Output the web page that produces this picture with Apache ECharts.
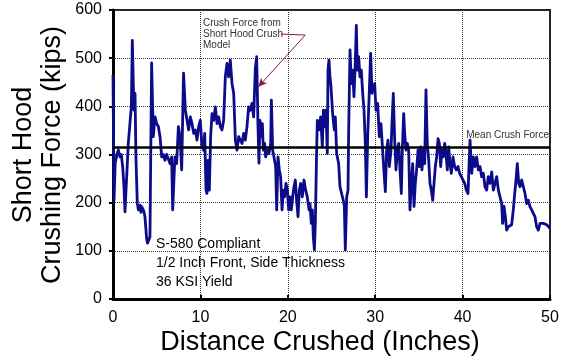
<!DOCTYPE html>
<html>
<head>
<meta charset="utf-8">
<script src="https://cdn.jsdelivr.net/npm/echarts@6/dist/echarts.min.js"></script>
<style>
  html, body { margin: 0; padding: 0; background: #ffffff; }
  #chart { width: 569px; height: 358px; }
</style>
</head>
<body>
<div id="chart"></div>
<script>
// Crush distance (inches) and short hood crushing force (kips)
const distance = [
  0.00, 0.12, 0.25, 0.45, 0.61, 0.80, 0.95, 1.11, 1.25, 1.37, 1.56, 1.75, 1.95, 2.10, 2.21, 2.32, 2.40, 2.52, 2.63, 2.78,
  2.90, 3.09, 3.20, 3.28, 3.47, 3.58, 3.66, 3.85, 3.95, 4.04, 4.23, 4.30, 4.42, 4.61, 4.81, 5.00, 5.19, 5.38, 5.57, 5.75,
  5.95, 6.15, 6.33, 6.52, 6.71, 6.83, 7.00, 7.09, 7.28, 7.48, 7.67, 7.86, 8.07,
  8.28, 8.47, 8.66, 8.85, 9.04, 9.23, 9.42, 9.61, 9.80, 9.99, 10.18, 10.37, 10.49, 10.64, 10.75, 10.87, 11.02, 11.17, 11.33, 11.52,
  11.71, 11.90, 12.09, 12.28, 12.47, 12.66, 12.85, 13.04, 13.23, 13.42, 13.62, 13.81, 14.00, 14.19, 14.38, 14.57, 14.76, 14.95,
  15.14, 15.33, 15.52, 15.71, 15.90, 16.09, 16.29, 16.44,
  16.59, 16.70, 16.82, 16.97, 17.09, 17.20, 17.35, 17.47, 17.66, 17.85, 18.04, 18.12, 18.27, 18.42, 18.61, 18.73, 18.88, 19.03,
  19.18, 19.34, 19.49, 19.64, 19.79, 19.95, 20.10, 20.25, 20.40, 20.56, 20.71, 20.86, 21.01, 21.17, 21.32, 21.47, 21.66, 21.85,
  22.04, 22.23, 22.43, 22.54, 22.69, 22.81, 22.92, 23.04, 23.15, 23.30, 23.38, 23.57, 23.76, 23.95, 24.07, 24.22, 24.37, 24.52,
  24.60, 24.71,
  24.83, 24.94, 25.13, 25.32, 25.44, 25.59, 25.82, 25.97, 26.20, 26.35, 26.47, 26.58, 26.74, 26.89, 26.96, 27.04, 27.12, 27.27,
  27.42, 27.57, 27.73, 27.84, 27.96, 28.11, 28.26, 28.41, 28.57, 28.72, 28.87, 28.99, 29.14, 29.33, 29.48, 29.63, 29.79, 29.94,
  30.09, 30.28, 30.47, 30.66, 30.85, 31.04, 31.16, 31.31, 31.46, 31.62, 31.81, 31.92, 32.07, 32.23, 32.38, 32.53, 32.69, 32.84,
  32.99,
  33.10, 33.26, 33.37, 33.52, 33.68, 33.83, 33.98, 34.13, 34.29, 34.44, 34.59, 34.74, 34.90, 35.05, 35.20, 35.35, 35.51, 35.66,
  35.81, 35.96, 36.12, 36.27, 36.42, 36.58, 36.73, 36.88, 37.03, 37.19, 37.34, 37.49, 37.64, 37.80, 37.95, 38.10, 38.25, 38.41,
  38.56, 38.71, 38.90, 39.09, 39.28, 39.47, 39.66, 39.85, 40.05, 40.24, 40.43, 40.62, 40.73, 40.85,
  41.04, 41.23, 41.42, 41.61, 41.80, 41.99, 42.18, 42.37, 42.56, 42.75, 42.94, 43.14, 43.33, 43.52, 43.71, 43.90, 44.09, 44.28,
  44.47, 44.58, 44.74, 44.89, 45.04, 45.23, 45.42, 45.61, 45.80, 45.96, 46.11, 46.26, 46.42, 46.57, 46.76, 46.95, 47.14, 47.33,
  47.52, 47.71, 47.90, 48.09, 48.28, 48.47, 48.66, 48.86, 49.05, 49.24, 49.43, 49.62, 49.81, 50.00
];
const force = [
  465, 205, 282, 300, 309, 295, 300, 274, 235, 181, 181, 323, 323, 400, 537, 450, 392, 427, 290, 199,
  185, 195, 180, 192, 185, 178, 170, 125, 116, 120, 129, 132, 490, 337, 378, 364, 358, 337, 295, 300,
  288, 300, 302, 281, 295, 185, 260, 295, 281, 358, 337, 268, 469,
  392, 371, 351, 378, 364, 344, 351, 330, 358, 371, 316, 309, 344, 226, 219, 288, 226, 337, 385, 371,
  399, 364, 378, 358, 351, 371, 461, 489, 461, 496, 447, 427, 330, 309, 337, 330, 323, 344,
  330, 358, 399, 392, 406, 378, 480, 503,
  358, 282, 371, 337, 364, 309, 323, 295, 309, 302, 323, 413, 309, 295, 275, 185, 295, 268,
  254, 185, 226, 212, 240, 226, 185, 212, 185, 212, 233, 247, 205, 171, 226, 240, 212, 247,
  226, 212, 185, 198, 157, 185, 129, 102, 157, 309, 371, 351, 378, 316, 392, 358, 392, 302,
  475, 496,
  461, 441, 385, 351, 378, 302, 281, 233, 216, 205, 192, 102, 212, 226, 344, 434, 517, 447,
  475, 420, 496, 568, 475, 503, 461, 475, 427, 392, 323, 212, 337, 434, 510, 427, 441, 447,
  392, 406, 337, 364, 309, 254, 223, 309, 330, 275, 309, 364, 427, 330, 268, 309, 323, 268,
  219,
  309, 385, 344, 309, 323, 309, 185, 240, 281, 192, 240, 268, 309, 275, 316, 268, 309, 281,
  434, 323, 288, 240, 226, 205, 240, 275, 295, 333, 323, 275, 309, 295, 323, 302, 268, 316,
  281, 261, 295, 275, 268, 275, 261, 254, 247, 240, 226, 219, 275, 330,
  261, 295, 275, 295, 268, 275, 254, 261, 233, 226, 254, 240, 264, 226, 240, 254, 226, 212,
  198, 157, 192, 171, 143, 150, 150, 154, 185, 219, 247, 281, 240, 233, 247, 233, 219, 198,
  205, 192, 185, 178, 171, 150, 143, 157, 160, 157, 157, 154, 150, 147
];
const meanForce = 315;

// Leader and arrow for the model callout, in (inches, kips)
const calloutLeader = [[19.2, 550], [22.0, 548]];
const calloutArrow = [[22.0, 548], [16.6, 440]];

const xTitle = 'Distance Crushed (Inches)';
const yTitleLines = ['Short Hood', 'Crushing Force (kips)'];
const noteLines = ['S-580 Compliant', '1/2 Inch Front, Side Thickness', '36 KSI Yield'];
const calloutText = 'Crush Force from\nShort Hood Crush\nModel';
const meanLabel = 'Mean Crush Force';

const FONT = '"Liberation Sans", Arial, Helvetica, sans-serif';

const chart = echarts.init(document.getElementById('chart'), null, { renderer: 'canvas' });

const option = {
  animation: false,
  backgroundColor: '#ffffff',
  grid: {
    left: 113, right: 19, top: 10, bottom: 59,
    show: true, borderColor: '#222', borderWidth: 2, backgroundColor: 'transparent'
  },
  xAxis: {
    type: 'value', min: 0, max: 50, interval: 10,
    axisLine: { show: true, onZero: false, lineStyle: { color: '#000', width: 3 } },
    axisTick: { show: true, inside: true, length: 4, lineStyle: { color: '#000', width: 2 } },
    axisLabel: { color: '#000', fontSize: 16, fontFamily: FONT, margin: 11 },
    splitLine: { show: true, lineStyle: { color: '#333', type: 'dotted', width: 1 } }
  },
  yAxis: {
    type: 'value', min: 0, max: 600, interval: 100,
    axisLine: { show: true, onZero: false, lineStyle: { color: '#000', width: 3 } },
    axisTick: { show: true, inside: false, length: 4, lineStyle: { color: '#000', width: 2 } },
    axisLabel: { color: '#000', fontSize: 16, fontFamily: FONT, margin: 11 },
    splitLine: { show: true, lineStyle: { color: '#333', type: 'dotted', width: 1 } }
  },
  series: [{
    type: 'line',
    data: distance.map((d, i) => [d, force[i]]),
    showSymbol: false,
    symbol: 'none',
    lineStyle: { color: '#0c0c8a', width: 2.8, join: 'round' },
    silent: true,
    z: 3,
    markLine: {
      silent: true,
      symbol: ['none', 'none'],
      animation: false,
      data: [
        {
          yAxis: meanForce,
          lineStyle: { color: '#000', width: 2.5, type: 'solid' },
          label: {
            show: true, position: 'insideEndTop', formatter: meanLabel,
            color: '#333', fontSize: 10, fontFamily: FONT, distance: [1, 7]
          }
        },
        [
          { coord: calloutLeader[0], symbol: 'none' },
          { coord: calloutLeader[1], symbol: 'none',
            lineStyle: { color: '#8a1550', width: 1, type: 'solid' }, label: { show: false } }
        ],
        [
          { coord: calloutArrow[0], symbol: 'none' },
          { coord: calloutArrow[1], symbol: 'arrow', symbolSize: [6, 9],
            lineStyle: { color: '#8a1550', width: 1, type: 'solid' }, label: { show: false } }
        ]
      ]
    }
  }],
  graphic: [
    {
      type: 'text', x: 320, y: 343,
      style: { text: xTitle, font: '27px ' + FONT, fill: '#000', align: 'center', verticalAlign: 'middle' }
    },
    {
      type: 'text', x: 24, y: 155, rotation: Math.PI / 2,
      style: { text: yTitleLines[0], font: '27px ' + FONT, fill: '#000', align: 'center', verticalAlign: 'middle' }
    },
    {
      type: 'text', x: 53, y: 155, rotation: Math.PI / 2,
      style: { text: yTitleLines[1], font: '27px ' + FONT, fill: '#000', align: 'center', verticalAlign: 'middle' }
    },
    {
      type: 'text', x: 156, y: 235,
      style: { text: noteLines.join('\n'), font: '14px ' + FONT, lineHeight: 19, fill: '#000', align: 'left', verticalAlign: 'top' }
    },
    {
      type: 'text', x: 203, y: 18,
      style: { text: calloutText, font: '10px ' + FONT, lineHeight: 11, fill: '#333', align: 'left', verticalAlign: 'top' }
    }
  ]
};

chart.setOption(option);
</script>
</body>
</html>
